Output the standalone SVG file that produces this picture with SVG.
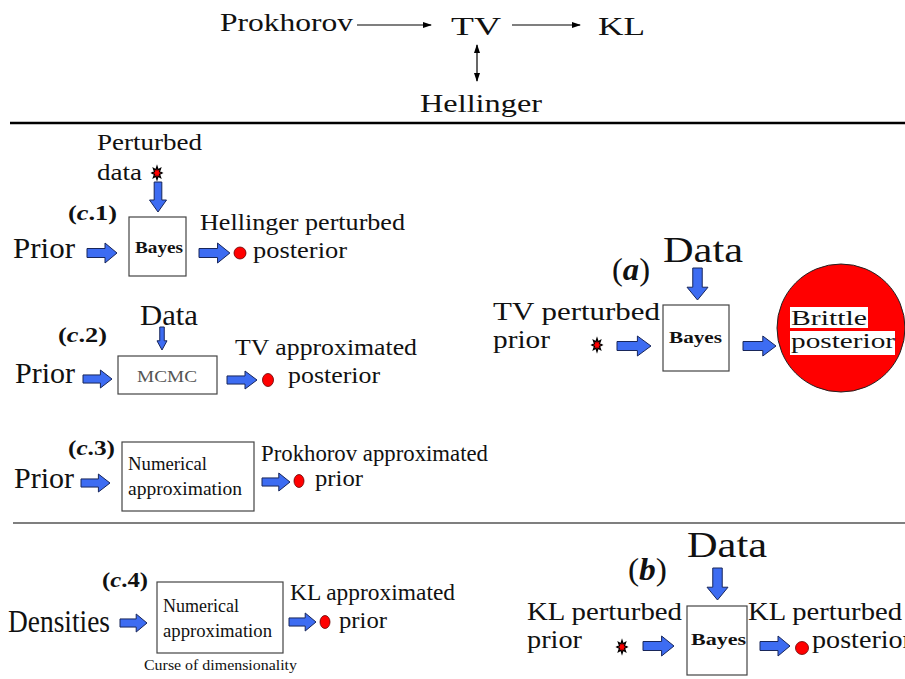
<svg xmlns="http://www.w3.org/2000/svg" xmlns:xlink="http://www.w3.org/1999/xlink" width="905" height="679" viewBox="0 0 905 679">
<style>
.t26{font-size:26px}
.t25{font-size:25px}
.t24{font-size:24px}
.big{font-size:30px}
.lbl{font-size:22px;font-weight:bold}
.bay{font-size:16px;font-weight:bold}
.num{font-size:18px}
.box{fill:#fff;stroke:#444;stroke-width:1.2}
.blk{fill:#3d6cf2;stroke:#18265a;stroke-width:1}
.dot{fill:#ff0000;stroke:#600;stroke-width:0.8}
.star{fill:#ff0000;stroke:#000;stroke-width:1.3}
.thin{stroke:#000;stroke-width:1.2;fill:none}
.rule{stroke:#000;fill:none}
</style>
<defs>
  <!-- block arrow pointing right, 30 long, 20 tall -->
  <path id="ra" d="M0,-4.5 H18 V-10 L30,0 L18,10 V4.5 H0 Z" vector-effect="non-scaling-stroke"/>
  <!-- small 8-spike burst -->
  <polygon id="burst" points="6,0 2.96,1.22 4.24,4.24 1.22,2.96 0,6 -1.22,2.96 -4.24,4.24 -2.96,1.22 -6,0 -2.96,-1.22 -4.24,-4.24 -1.22,-2.96 0,-6 1.22,-2.96 4.24,-4.24 2.96,-1.22" vector-effect="non-scaling-stroke"/>
  <marker id="ah" markerWidth="9" markerHeight="8" refX="8" refY="4" orient="auto-start-reverse" markerUnits="userSpaceOnUse">
    <path d="M0,1 L9,4 L0,7 Z" fill="#000"/>
  </marker>
</defs>

<!-- divider rules -->
<line class="rule" x1="10" y1="123" x2="905" y2="123" stroke-width="2.3"/>
<line class="rule" x1="13" y1="523" x2="905" y2="523" stroke-width="1.2"/>

<g font-family="'Liberation Serif', serif" fill="#111">
<!-- metric hierarchy -->
<g id="prokhorov"><text class="t26" x="220" y="31" textLength="133" lengthAdjust="spacingAndGlyphs">Prokhorov</text></g>
<g id="tv"><text class="t26" x="451" y="35" textLength="50" lengthAdjust="spacingAndGlyphs">TV</text></g>
<g id="kl"><text class="t26" x="598" y="35" textLength="47" lengthAdjust="spacingAndGlyphs">KL</text></g>
<g id="hellinger"><text class="t26" x="420" y="112" textLength="122" lengthAdjust="spacingAndGlyphs">Hellinger</text></g>

<!-- (c.1) -->
<g id="c1-label"><text class="lbl" x="68" y="220" textLength="49" lengthAdjust="spacingAndGlyphs">(<tspan font-style="italic">c</tspan>.1)</text></g>
<g id="c1-data"><text class="t24" x="97" y="150" textLength="105" lengthAdjust="spacingAndGlyphs">Perturbed</text><text class="t24" x="97" y="180" textLength="45" lengthAdjust="spacingAndGlyphs">data</text><use xlink:href="#burst" class="star" transform="translate(157,173) scale(0.85,1.1)"/></g>
<g id="c1-prior"><text class="big" x="13" y="258" textLength="62" lengthAdjust="spacingAndGlyphs">Prior</text></g>
<g id="c1-bayes"><rect class="box" x="129" y="217" width="57" height="59"/><text class="bay" x="135" y="253" textLength="48" lengthAdjust="spacingAndGlyphs">Bayes</text></g>
<g id="c1-out"><circle class="dot" cx="240" cy="253" r="6"/><text class="t24" x="200" y="230" textLength="205" lengthAdjust="spacingAndGlyphs">Hellinger perturbed</text><text class="t24" x="253" y="258" textLength="94" lengthAdjust="spacingAndGlyphs">posterior</text></g>

<!-- (c.2) -->
<g id="c2-label"><text class="lbl" x="58" y="342" textLength="49" lengthAdjust="spacingAndGlyphs">(<tspan font-style="italic">c</tspan>.2)</text></g>
<g id="c2-data"><text class="big" x="140" y="325" textLength="58" lengthAdjust="spacingAndGlyphs">Data</text></g>
<g id="c2-prior"><text class="big" x="15" y="383" textLength="60" lengthAdjust="spacingAndGlyphs">Prior</text></g>
<g id="c2-mcmc"><rect class="box" x="118" y="356" width="99" height="38"/><text x="137" y="382" font-size="17" fill="#555" textLength="60" lengthAdjust="spacingAndGlyphs">MCMC</text></g>
<g id="c2-out"><ellipse class="dot" cx="268" cy="380" rx="5.5" ry="6.5"/><text class="t24" x="235" y="355" textLength="182" lengthAdjust="spacingAndGlyphs">TV approximated</text><text class="t24" x="288" y="383" textLength="92" lengthAdjust="spacingAndGlyphs">posterior</text></g>

<!-- (c.3) -->
<g id="c3-label"><text class="lbl" x="68" y="455" textLength="47" lengthAdjust="spacingAndGlyphs">(<tspan font-style="italic">c</tspan>.3)</text></g>
<g id="c3-prior"><text class="big" x="14" y="488" textLength="60" lengthAdjust="spacingAndGlyphs">Prior</text></g>
<g id="c3-numerical"><rect class="box" x="122" y="442" width="132" height="69"/><text class="num" x="128" y="470" textLength="79" lengthAdjust="spacingAndGlyphs">Numerical</text><text class="num" x="128" y="495" textLength="114" lengthAdjust="spacingAndGlyphs">approximation</text></g>
<g id="c3-out"><ellipse class="dot" cx="299" cy="481" rx="5" ry="6.5"/><text class="t24" x="261" y="461" textLength="227" lengthAdjust="spacingAndGlyphs">Prokhorov approximated</text><text class="t24" x="315" y="486" textLength="48" lengthAdjust="spacingAndGlyphs">prior</text></g>

<!-- (c.4) -->
<g id="c4-label"><text class="lbl" x="102" y="587" textLength="46" lengthAdjust="spacingAndGlyphs">(<tspan font-style="italic">c</tspan>.4)</text></g>
<g id="c4-densities"><text x="8" y="632" font-size="32" textLength="102" lengthAdjust="spacingAndGlyphs">Densities</text></g>
<g id="c4-numerical"><rect class="box" x="157" y="582" width="126" height="71"/><text class="num" x="163" y="612" textLength="76" lengthAdjust="spacingAndGlyphs">Numerical</text><text class="num" x="163" y="637" textLength="109" lengthAdjust="spacingAndGlyphs">approximation</text><text x="144" y="670" font-size="15" textLength="153" lengthAdjust="spacingAndGlyphs">Curse of dimensionality</text></g>
<g id="c4-out"><ellipse class="dot" cx="325" cy="622" rx="5" ry="6.5"/><text class="t24" x="290" y="600" textLength="165" lengthAdjust="spacingAndGlyphs">KL approximated</text><text class="t24" x="339" y="628" textLength="48" lengthAdjust="spacingAndGlyphs">prior</text></g>

<!-- (a) -->
<g id="a-label"><text x="612" y="280" font-size="32" textLength="38" lengthAdjust="spacingAndGlyphs">(<tspan font-style="italic" font-weight="bold">a</tspan>)</text></g>
<g id="a-data"><text x="663" y="262" font-size="36" textLength="80" lengthAdjust="spacingAndGlyphs">Data</text></g>
<g id="a-prior"><text class="t25" x="493" y="320" textLength="167" lengthAdjust="spacingAndGlyphs">TV perturbed</text><text class="t25" x="493" y="348" textLength="57" lengthAdjust="spacingAndGlyphs">prior</text><use xlink:href="#burst" class="star" transform="translate(597,345) scale(0.85,1.1)"/></g>
<g id="a-bayes"><rect class="box" x="663" y="305" width="66" height="66"/><text x="669" y="343" font-size="17" font-weight="bold" textLength="53" lengthAdjust="spacingAndGlyphs">Bayes</text></g>
<g id="a-brittle"><circle cx="841" cy="328" r="64" fill="#ff0000" stroke="#222" stroke-width="1"/><rect x="790" y="307" width="78" height="21" fill="#fff"/><rect x="790" y="331" width="105" height="24" fill="#fff"/><text x="791" y="325" font-size="22" textLength="76" lengthAdjust="spacingAndGlyphs">Brittle</text><text x="791" y="348" font-size="22" textLength="104" lengthAdjust="spacingAndGlyphs">posterior</text></g>

<!-- (b) -->
<g id="b-label"><text x="628" y="580" font-size="32" textLength="39" lengthAdjust="spacingAndGlyphs">(<tspan font-style="italic" font-weight="bold">b</tspan>)</text></g>
<g id="b-data"><text x="687" y="557" font-size="36" textLength="80" lengthAdjust="spacingAndGlyphs">Data</text></g>
<g id="b-prior"><text class="t25" x="527" y="620" textLength="155" lengthAdjust="spacingAndGlyphs">KL perturbed</text><text class="t25" x="527" y="648" textLength="55" lengthAdjust="spacingAndGlyphs">prior</text><use xlink:href="#burst" class="star" transform="translate(622,647) scale(0.85,1.1)"/></g>
<g id="b-bayes"><rect class="box" x="687" y="606" width="60" height="69"/><text x="691" y="645" font-size="17" font-weight="bold" textLength="55" lengthAdjust="spacingAndGlyphs">Bayes</text></g>
<g id="b-out"><circle class="dot" cx="802" cy="648" r="6.5"/><text class="t25" x="748" y="620" textLength="154" lengthAdjust="spacingAndGlyphs">KL perturbed</text><text class="t25" x="812" y="648" textLength="100" lengthAdjust="spacingAndGlyphs">posterior</text></g>
</g>

<!-- connectors -->
<g id="connectors">
  <line class="thin" x1="357" y1="25" x2="431" y2="25" marker-end="url(#ah)"/>
  <line class="thin" x1="512" y1="25" x2="580" y2="25" marker-end="url(#ah)"/>
  <line class="thin" x1="477" y1="45" x2="477" y2="81" marker-start="url(#ah)" marker-end="url(#ah)"/>

  <use xlink:href="#ra" class="blk" transform="translate(158,182) rotate(90) scale(1,0.85)"/>
  <use xlink:href="#ra" class="blk" transform="translate(87,253)"/>
  <use xlink:href="#ra" class="blk" transform="translate(199,253) scale(1.03,1)"/>

  <use xlink:href="#ra" class="blk" transform="translate(162,327) rotate(90) scale(0.767,0.5)"/>
  <use xlink:href="#ra" class="blk" transform="translate(83,379) scale(0.967,0.9)"/>
  <use xlink:href="#ra" class="blk" transform="translate(227,380) scale(1,0.9)"/>

  <use xlink:href="#ra" class="blk" transform="translate(81,483) scale(0.967,0.9)"/>
  <use xlink:href="#ra" class="blk" transform="translate(262,482) scale(0.933,0.9)"/>

  <use xlink:href="#ra" class="blk" transform="translate(120,623) scale(0.9,0.9)"/>
  <use xlink:href="#ra" class="blk" transform="translate(289,622) scale(0.9,0.9)"/>

  <use xlink:href="#ra" class="blk" transform="translate(697.5,268) rotate(90) scale(1.067,1.05)"/>
  <use xlink:href="#ra" class="blk" transform="translate(617,346) scale(1.133,1)"/>
  <use xlink:href="#ra" class="blk" transform="translate(743,346) scale(1.1,1)"/>

  <use xlink:href="#ra" class="blk" transform="translate(717.5,568) rotate(90) scale(1.067,1.05)"/>
  <use xlink:href="#ra" class="blk" transform="translate(643,646) scale(1.033,1)"/>
  <use xlink:href="#ra" class="blk" transform="translate(760,646) scale(1,1)"/>
</g>
</svg>
